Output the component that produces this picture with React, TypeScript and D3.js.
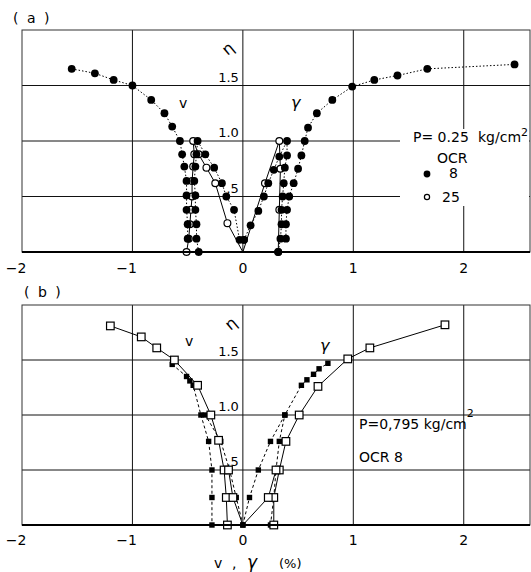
import React from 'react';
import * as d3 from 'd3';

// panel (a): P = 0.25 kg/cm2, OCR 8 (filled circles) and OCR 25 (open circles)
const a8VOuter = [[-1.55, 1.65], [-1.34, 1.61], [-1.17, 1.55], [-1.0, 1.5], [-0.83, 1.37], [-0.71, 1.25], [-0.64, 1.13], [-0.57, 1.0], [-0.55, 0.88], [-0.53, 0.77], [-0.51, 0.64], [-0.51, 0.51], [-0.51, 0.38], [-0.5, 0.25], [-0.5, 0.12]];
const a8VInner = [[-0.4, 0.0], [-0.42, 0.12], [-0.42, 0.25], [-0.43, 0.38], [-0.43, 0.51], [-0.44, 0.64], [-0.43, 0.77], [-0.42, 0.88], [-0.41, 1.0], [-0.34, 0.88], [-0.26, 0.76], [-0.19, 0.62], [-0.15, 0.5], [-0.08, 0.38], [-0.03, 0.11], [0.01, 0.11]];
const a25V = [[-0.51, 0.0], [-0.49, 0.12], [-0.48, 0.25], [-0.47, 0.38], [-0.46, 0.5], [-0.46, 0.64], [-0.45, 0.77], [-0.44, 0.88], [-0.45, 1.0], [-0.4, 0.88], [-0.33, 0.76], [-0.25, 0.62], [-0.14, 0.26], [0.0, 0.0]];
const a8GInner = [[0.01, 0.11], [0.07, 0.24], [0.14, 0.37], [0.19, 0.5], [0.23, 0.62], [0.28, 0.74], [0.33, 0.86], [0.4, 1.0], [0.4, 0.87], [0.38, 0.76], [0.37, 0.62], [0.36, 0.5], [0.35, 0.38], [0.35, 0.25], [0.34, 0.12], [0.32, 0.0]];
const a8GOuter = [[0.39, 0.12], [0.39, 0.25], [0.4, 0.38], [0.42, 0.5], [0.46, 0.62], [0.5, 0.75], [0.53, 0.87], [0.56, 1.0], [0.59, 1.12], [0.67, 1.25], [0.81, 1.37], [0.99, 1.49], [1.19, 1.55], [1.4, 1.59], [1.67, 1.65], [2.46, 1.69]];
const a25G = [[0.0, 0.0], [0.2, 0.62], [0.33, 1.0], [0.34, 0.75], [0.33, 0.38], [0.32, 0.0]];

// panel (b): P = 0.795 kg/cm2, OCR 8 (open and filled squares)
const bVOpen = [[-1.2, 1.81], [-0.92, 1.71], [-0.78, 1.61], [-0.62, 1.5], [-0.41, 1.27], [-0.29, 1.0], [-0.22, 0.77], [-0.17, 0.5], [-0.15, 0.25], [-0.14, 0.0]];
const bVOpen2 = [[0.0, 0.0], [-0.09, 0.25], [-0.13, 0.5]];
const bVFilled = [[-0.64, 1.46], [-0.51, 1.35], [-0.48, 1.31], [-0.45, 1.27], [-0.38, 1.0], [-0.31, 0.76], [-0.28, 0.5], [-0.28, 0.25], [-0.28, 0.0]];
const bVFilled2 = [[0.0, 0.0], [-0.06, 0.25], [-0.12, 0.5], [-0.2, 0.76], [-0.34, 1.0]];
const bGFilled = [[0.0, 0.0], [0.06, 0.25], [0.14, 0.5], [0.25, 0.76], [0.38, 1.0], [0.53, 1.27], [0.58, 1.32], [0.64, 1.37], [0.69, 1.42], [0.77, 1.47]];
const bGFilled2 = [[0.25, 0.0], [0.28, 0.25], [0.3, 0.5], [0.33, 0.76], [0.38, 1.0]];
const bGOpen = [[0.28, 0.0], [0.28, 0.25], [0.33, 0.5], [0.39, 0.76], [0.51, 1.0], [0.68, 1.26], [0.95, 1.51], [1.15, 1.61], [1.83, 1.82]];
const bGOpen2 = [[0.0, 0.0], [0.23, 0.25], [0.3, 0.5]];

const xTicks = [-2, -1, 0, 1, 2];
const xTickLabels = ['\u22122', '\u22121', '0', '1', '2'];
const xGrid = [-1, 0, 1, 2];
const yGrid = [0.5, 1.0, 1.5];
const yTickLabels = ['.5', '1.0', '1.5'];

const font = 'DejaVu Sans, sans-serif';

const x = d3.scaleLinear().domain([-2, 2.6]).range([22, 530]);
const yA = d3.scaleLinear().domain([0, 2]).range([252, 30]);
const yB = d3.scaleLinear().domain([0, 2]).range([525, 305]);

function Frame({ y, labelY }) {
  const [bottom, top] = y.range();
  return (
    <g>
      {xGrid.map((v) => (
        <line key={'x' + v} x1={x(v)} x2={x(v)} y1={top} y2={bottom} stroke="#111" strokeWidth={1} />
      ))}
      {yGrid.map((v) => (
        <line key={'y' + v} x1={x(-2)} x2={x(2.6)} y1={y(v)} y2={y(v)} stroke="#111" strokeWidth={1} />
      ))}
      {xTicks.map((v, i) => (
        <text key={'t' + v} x={v < 0 ? x(v) + 4.5 : x(v)} y={labelY} textAnchor={v < 0 ? 'end' : 'middle'}
          fontFamily={font} fontSize={14}>{xTickLabels[i]}</text>
      ))}
      {yGrid.map((v, i) => (
        <text key={'l' + v} x={x(0) - 4} y={y(v) - 4} textAnchor="end" fontFamily={font} fontSize={13}>{yTickLabels[i]}</text>
      ))}
    </g>
  );
}

function Border({ y }) {
  const [bottom, top] = y.range();
  return (
    <g>
      <rect x={x(-2)} y={top} width={x(2.6) - x(-2)} height={bottom - top} fill="none" stroke="#333" strokeWidth={1} />
      <line x1={x(-2)} x2={x(2.6)} y1={bottom} y2={bottom} stroke="#000" strokeWidth={2} />
    </g>
  );
}

function Series({ data, y, dash, marker, skipOrigin }) {
  const line = d3.line().x((d) => x(d[0])).y((d) => y(d[1]));
  const pts = skipOrigin ? data.filter((d) => !(d[0] === 0 && d[1] === 0)) : data;
  return (
    <g>
      <path d={line(data)} fill="none" stroke="#000" strokeWidth={1} strokeDasharray={dash} />
      {pts.map((d, i) => {
        const cx = x(d[0]);
        const cy = y(d[1]);
        if (marker === 'dot') return <circle key={i} cx={cx} cy={cy} r={3.9} fill="#000" />;
        if (marker === 'ring') return <circle key={i} cx={cx} cy={cy} r={3.4} fill="#fff" stroke="#000" strokeWidth={1.2} />;
        if (marker === 'box') return <rect key={i} x={cx - 3.8} y={cy - 3.8} width={7.6} height={7.6} fill="#fff" stroke="#000" strokeWidth={1.2} />;
        return <rect key={i} x={cx - 2.7} y={cy - 2.7} width={5.4} height={5.4} fill="#000" />;
      })}
    </g>
  );
}

export default function App() {
  return (
    <svg width={531} height={572} style={{ position: 'absolute', left: 0, top: 0, background: '#fff' }}>
      {/* panel (a) */}
      <text x={13} y={23} fontFamily={font} fontSize={14} letterSpacing={2}>( a )</text>
      <Frame y={yA} labelY={273} />
      <rect x={400} y={129} width={129} height={77} fill="#fff" />
      <Series data={a25V} y={yA} marker="ring" skipOrigin />
      <Series data={a25G} y={yA} marker="ring" skipOrigin />
      <Series data={a8VOuter} y={yA} dash="1.5,2" marker="dot" />
      <Series data={a8VInner} y={yA} dash="1.5,2" marker="dot" />
      <Series data={a8GInner} y={yA} dash="1.5,2" marker="dot" />
      <Series data={a8GOuter} y={yA} dash="1.5,2" marker="dot" />
      <Border y={yA} />
      <text x={225} y={57} fontFamily={font} fontSize={16} transform="rotate(-40 225 53)">η</text>
      <text x={179} y={108} fontFamily={font} fontSize={14}>v</text>
      <text x={291} y={108} fontFamily={font} fontSize={16} fontStyle="italic">γ</text>
      <text x={413} y={142} fontFamily={font} fontSize={14}>P= 0.25<tspan x={478}>kg/cm</tspan><tspan dy={-6} fontSize={11}>2</tspan></text>
      <text x={437} y={163} fontFamily={font} fontSize={14}>OCR</text>
      <circle cx={427} cy={174} r={3.4} fill="#000" />
      <text x={449} y={178} fontFamily={font} fontSize={14}>8</text>
      <circle cx={427} cy={197} r={2.6} fill="#fff" stroke="#000" strokeWidth={1.2} />
      <text x={442} y={202} fontFamily={font} fontSize={14}>25</text>

      {/* panel (b) */}
      <text x={24} y={297} fontFamily={font} fontSize={14} letterSpacing={2}>( b )</text>
      <Frame y={yB} labelY={545} />
      <Series data={bVFilled} y={yB} dash="3,2.5" marker="sq" />
      <Series data={bVFilled2} y={yB} dash="3,2.5" marker="sq" />
      <Series data={bGFilled} y={yB} dash="3,2.5" marker="sq" />
      <Series data={bGFilled2} y={yB} dash="3,2.5" marker="sq" />
      <Series data={bVOpen} y={yB} marker="box" />
      <Series data={bVOpen2} y={yB} marker="box" skipOrigin />
      <Series data={bGOpen} y={yB} marker="box" />
      <Series data={bGOpen2} y={yB} marker="box" skipOrigin />
      <Border y={yB} />
      <text x={228} y={332} fontFamily={font} fontSize={16} transform="rotate(-40 228 328)">η</text>
      <text x={185} y={346} fontFamily={font} fontSize={14}>v</text>
      <text x={320} y={351} fontFamily={font} fontSize={16} fontStyle="italic">γ</text>
      <text x={359} y={429} fontFamily={font} fontSize={14}>P=0,795 kg/cm<tspan dy={-12} fontSize={11}>2</tspan></text>
      <text x={359} y={462} fontFamily={font} fontSize={14}>OCR 8</text>
      <text x={214} y={568} fontFamily={font} fontSize={14}>v</text>
      <text x={232} y={568} fontFamily={font} fontSize={14}>,</text>
      <text x={247} y={568} fontFamily={font} fontSize={17} fontStyle="italic">γ</text>
      <text x={279} y={568} fontFamily={font} fontSize={13}>(%)</text>
    </svg>
  );
}
